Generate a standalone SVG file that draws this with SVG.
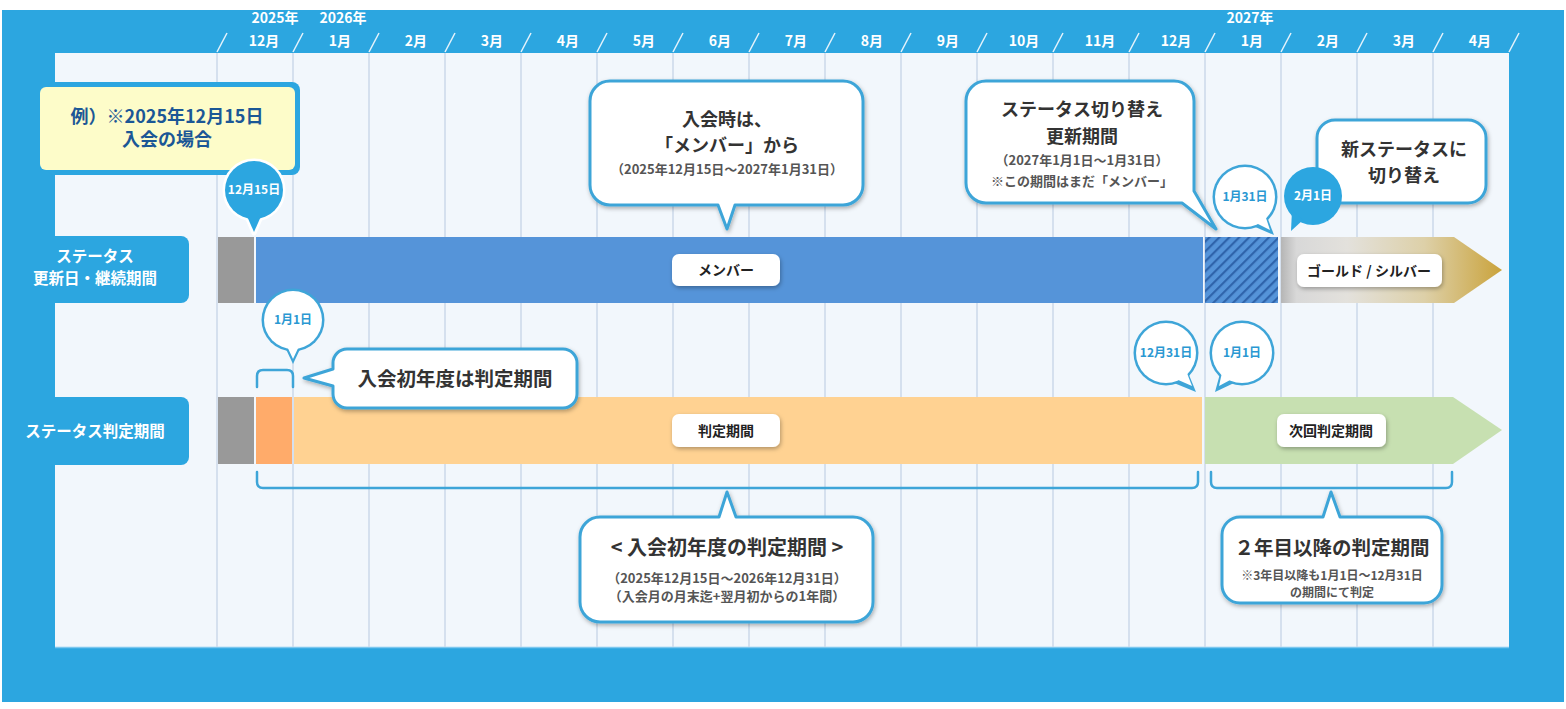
<svg xmlns="http://www.w3.org/2000/svg" width="1566" height="709" viewBox="0 0 1566 709">
<defs>
<style>
text{font-family:'Noto Sans CJK JP','Noto Sans',sans-serif;}
.hdr{fill:#fff;font-size:14px;font-weight:700;text-anchor:middle;}
.grid{stroke:#cbd8ea;stroke-width:1.5;}
.slash{stroke:#e6f3fb;stroke-width:1.5;}
.lbl{fill:#fff;font-size:15.5px;font-weight:700;text-anchor:middle;}
.call{fill:#fff;stroke:#3ea5d8;stroke-width:3;stroke-linejoin:round;filter:url(#sh);}
.t1{fill:#333;font-size:18px;font-weight:700;text-anchor:middle;}
.t2{fill:#555;font-size:13px;font-weight:700;text-anchor:middle;}
.tag{fill:#fff;filter:url(#sh);}
.tagt{fill:#222;font-size:14px;font-weight:700;text-anchor:middle;}
.bub{fill:#3ea5d8;}
.bubf{fill:#fff;}
.bubt{fill:#2a98d2;font-size:12px;font-weight:700;text-anchor:middle;}
.brk{fill:none;stroke:#3ea5d8;stroke-width:2.5;stroke-linecap:round;stroke-linejoin:round;}
</style>
<filter id="sh" x="-10%" y="-10%" width="125%" height="130%">
<feDropShadow dx="1" dy="2" stdDeviation="2" flood-color="#000" flood-opacity="0.3"/>
</filter>
<pattern id="hatch" patternUnits="userSpaceOnUse" width="7" height="7" patternTransform="rotate(45)">
<rect width="7" height="7" fill="#5594d9"/>
<rect width="2.2" height="7" fill="#2f64ab"/>
</pattern>
<linearGradient id="gold" gradientUnits="userSpaceOnUse" x1="1281" y1="0" x2="1502" y2="0">
<stop offset="0" stop-color="#b5b5b5"/>
<stop offset="0.07" stop-color="#d8d8d8"/>
<stop offset="0.3" stop-color="#e3e1dc"/>
<stop offset="0.65" stop-color="#ddd0a8"/>
<stop offset="1" stop-color="#caa33c"/>
</linearGradient>
</defs>

<rect x="0" y="0" width="1566" height="709" fill="#fff"/>
<rect x="2" y="10" width="1562" height="692" fill="#2ca6e0"/>
<rect x="55" y="53" width="1454" height="595" fill="#f2f7fc"/>
<line x1="55" y1="647.5" x2="1509" y2="647.5" stroke="#7cc7ee" stroke-width="1.5"/>

<g id="header">
<text class="hdr" x="275" y="23">2025年</text>
<text class="hdr" x="343" y="23">2026年</text>
<text class="hdr" x="1250" y="23">2027年</text>
<g>
<text class="hdr" x="264" y="46">12月</text>
<text class="hdr" x="340" y="46">1月</text>
<text class="hdr" x="416" y="46">2月</text>
<text class="hdr" x="492" y="46">3月</text>
<text class="hdr" x="568" y="46">4月</text>
<text class="hdr" x="644" y="46">5月</text>
<text class="hdr" x="720" y="46">6月</text>
<text class="hdr" x="796" y="46">7月</text>
<text class="hdr" x="872" y="46">8月</text>
<text class="hdr" x="948" y="46">9月</text>
<text class="hdr" x="1024" y="46">10月</text>
<text class="hdr" x="1100" y="46">11月</text>
<text class="hdr" x="1176" y="46">12月</text>
<text class="hdr" x="1252" y="46">1月</text>
<text class="hdr" x="1328" y="46">2月</text>
<text class="hdr" x="1404" y="46">3月</text>
<text class="hdr" x="1480" y="46">4月</text>
</g>
<g>
<line class="slash" x1="217" y1="52" x2="227" y2="33"/>
<line class="slash" x1="293" y1="52" x2="303" y2="33"/>
<line class="slash" x1="369" y1="52" x2="379" y2="33"/>
<line class="slash" x1="445" y1="52" x2="455" y2="33"/>
<line class="slash" x1="521" y1="52" x2="531" y2="33"/>
<line class="slash" x1="597" y1="52" x2="607" y2="33"/>
<line class="slash" x1="673" y1="52" x2="683" y2="33"/>
<line class="slash" x1="749" y1="52" x2="759" y2="33"/>
<line class="slash" x1="825" y1="52" x2="835" y2="33"/>
<line class="slash" x1="901" y1="52" x2="911" y2="33"/>
<line class="slash" x1="977" y1="52" x2="987" y2="33"/>
<line class="slash" x1="1053" y1="52" x2="1063" y2="33"/>
<line class="slash" x1="1129" y1="52" x2="1139" y2="33"/>
<line class="slash" x1="1205" y1="52" x2="1215" y2="33"/>
<line class="slash" x1="1281" y1="52" x2="1291" y2="33"/>
<line class="slash" x1="1357" y1="52" x2="1367" y2="33"/>
<line class="slash" x1="1433" y1="52" x2="1443" y2="33"/>
<line class="slash" x1="1509" y1="52" x2="1519" y2="33"/>
</g>
</g>

<g id="grid">
<line class="grid" x1="217" y1="53" x2="217" y2="647"/>
<line class="grid" x1="293" y1="53" x2="293" y2="647"/>
<line class="grid" x1="369" y1="53" x2="369" y2="647"/>
<line class="grid" x1="445" y1="53" x2="445" y2="647"/>
<line class="grid" x1="521" y1="53" x2="521" y2="647"/>
<line class="grid" x1="597" y1="53" x2="597" y2="647"/>
<line class="grid" x1="673" y1="53" x2="673" y2="647"/>
<line class="grid" x1="749" y1="53" x2="749" y2="647"/>
<line class="grid" x1="825" y1="53" x2="825" y2="647"/>
<line class="grid" x1="901" y1="53" x2="901" y2="647"/>
<line class="grid" x1="977" y1="53" x2="977" y2="647"/>
<line class="grid" x1="1053" y1="53" x2="1053" y2="647"/>
<line class="grid" x1="1129" y1="53" x2="1129" y2="647"/>
<line class="grid" x1="1205" y1="53" x2="1205" y2="647"/>
<line class="grid" x1="1281" y1="53" x2="1281" y2="647"/>
<line class="grid" x1="1357" y1="53" x2="1357" y2="647"/>
<line class="grid" x1="1433" y1="53" x2="1433" y2="647"/>
</g>

<g id="label-status">
<path d="M2,236 H181 A8,8 0 0 1 189,244 V295 A8,8 0 0 1 181,303 H2 Z" fill="#2ca6e0"/>
<text class="lbl" x="95" y="262">ステータス</text>
<text class="lbl" x="95" y="284">更新日・継続期間</text>
</g>
<g id="label-judge">
<path d="M2,397 H181 A8,8 0 0 1 189,405 V457 A8,8 0 0 1 181,465 H2 Z" fill="#2ca6e0"/>
<text class="lbl" x="95" y="437">ステータス判定期間</text>
</g>

<g id="status-row">
<rect x="218" y="237" width="36" height="66" fill="#999"/>
<rect x="256" y="237" width="947" height="66" fill="#5594d9"/>
<rect x="1205" y="237" width="73" height="66" fill="url(#hatch)"/>
<path d="M1281,237 H1454 L1502,270 L1454,303 H1281 Z" fill="url(#gold)"/>
<g id="tag-member">
<rect class="tag" x="672" y="254" width="108" height="32" rx="7"/>
<text class="tagt" x="726" y="275">メンバー</text>
</g>
<g id="tag-gold">
<rect class="tag" x="1297" y="254" width="145" height="33" rx="7"/>
<text class="tagt" x="1369" y="276">ゴールド / シルバー</text>
</g>
</g>

<g id="judge-row">
<rect x="218" y="397" width="36" height="67" fill="#999"/>
<rect x="256" y="397" width="36" height="67" fill="#ffab6a"/>
<rect x="294" y="397" width="908" height="67" fill="#ffd292"/>
<path d="M1205,397 H1453 L1502,430 L1453,464 H1205 Z" fill="#c7e0b1"/>
<g id="tag-judge">
<rect class="tag" x="672" y="414" width="108" height="33" rx="7"/>
<text class="tagt" x="726" y="436">判定期間</text>
</g>
<g id="tag-next">
<rect class="tag" x="1277" y="414" width="109" height="33" rx="7"/>
<text class="tagt" x="1331" y="436">次回判定期間</text>
</g>
</g>

<g id="connectors">
<path class="brk" d="M257,387 V376 Q257,370 263,370 H287 Q293,370 293,376 V387"/>
<path class="brk" d="M257,472 V482 Q257,488 263,488 H1192 Q1198,488 1198,482 V472"/>
<path class="brk" d="M1211,472 V482 Q1211,488 1217,488 H1446 Q1452,488 1452,482 V472"/>
</g>

<g id="example-box">
<rect x="47" y="82" width="253" height="93" rx="8" fill="#2ca6e0"/>
<rect x="40" y="87" width="255" height="83" rx="6" fill="#fdfcc9"/>
<text x="167" y="123" fill="#1b5796" font-size="18" font-weight="700" text-anchor="middle">例）※2025年12月15日</text>
<text x="167" y="146" fill="#1b5796" font-size="18" font-weight="700" text-anchor="middle">入会の場合</text>
</g>

<g id="bubble-1215">
<circle cx="254" cy="190" r="29" fill="#fff" stroke="#fff" stroke-width="5"/>
<path d="M246,214 L254,233 L262,214 Z" fill="#fff" stroke="#fff" stroke-width="5" stroke-linejoin="round"/>
<circle cx="254" cy="190" r="29" fill="#2ca6e0"/>
<path d="M246,214 L254,232 L262,214 Z" fill="#2ca6e0"/>
<text x="254" y="194" fill="#fff" font-size="12" font-weight="700" text-anchor="middle">12月15日</text>
</g>

<g id="callout-member">
<path class="call" d="M610,81 H843 A20,20 0 0 1 863,101 V185 A20,20 0 0 1 843,205 H735 L727,229 L718,205 H610 A20,20 0 0 1 590,185 V101 A20,20 0 0 1 610,81 Z"/>
<text class="t1" x="727" y="126">入会時は、</text>
<text class="t1" x="727" y="152">「メンバー」から</text>
<text class="t2" x="727" y="174">（2025年12月15日～2027年1月31日）</text>
</g>

<g id="callout-switch">
<path class="call" d="M986,81 H1174 A20,20 0 0 1 1194,101 V191 L1216,229 L1182,203 H986 A20,20 0 0 1 966,183 V101 A20,20 0 0 1 986,81 Z"/>
<text class="t1" x="1082" y="116">ステータス切り替え</text>
<text class="t1" x="1082" y="143">更新期間</text>
<text class="t2" x="1082" y="165">（2027年1月1日～1月31日）</text>
<text class="t2" x="1082" y="186">※この期間はまだ「メンバー」</text>
</g>

<g id="bubble-0131">
<circle class="bub" cx="1245" cy="197" r="32.5"/>
<path class="bub" d="M1266,214 L1274,235 L1253,226 Z"/>
<circle class="bubf" cx="1245" cy="197" r="30"/>
<path class="bubf" d="M1264,212 L1270,230 L1254,222 Z"/>
<text class="bubt" x="1245" y="201">1月31日</text>
</g>

<g id="callout-new">
<rect class="call" x="1317" y="120" width="169" height="83" rx="18"/>
<text class="t1" x="1404" y="156">新ステータスに</text>
<text class="t1" x="1404" y="182">切り替え</text>
</g>

<g id="bubble-0201">
<circle cx="1313" cy="196" r="29" fill="#2ca6e0"/>
<path d="M1303,220 L1291,231 L1292,210 Z" fill="#2ca6e0"/>
<text x="1313" y="200" fill="#fff" font-size="12" font-weight="700" text-anchor="middle">2月1日</text>
</g>

<g id="bubble-0101a">
<circle class="bub" cx="293" cy="320" r="31.5"/>
<path class="bub" d="M284,345 L293,364 L302,345 Z"/>
<circle class="bubf" cx="293" cy="320" r="29"/>
<path class="bubf" d="M286,344 L293,359 L300,344 Z"/>
<text class="bubt" x="293" y="324">1月1日</text>
</g>

<g id="callout-first">
<path class="call" d="M347,349 H563 A14,14 0 0 1 577,363 V394 A14,14 0 0 1 563,408 H347 A14,14 0 0 1 333,394 V386 L304,378 L333,369 V363 A14,14 0 0 1 347,349 Z"/>
<text x="455" y="386" fill="#333" font-size="19.5" font-weight="700" text-anchor="middle">入会初年度は判定期間</text>
</g>

<g id="bubble-1231">
<circle class="bub" cx="1166" cy="353" r="32.5"/>
<path class="bub" d="M1187,370 L1196,392 L1174,383 Z"/>
<circle class="bubf" cx="1166" cy="353" r="30"/>
<path class="bubf" d="M1185,368 L1192,386 L1176,379 Z"/>
<text class="bubt" x="1166" y="357">12月31日</text>
</g>

<g id="bubble-0101b">
<circle class="bub" cx="1242" cy="353" r="32.5"/>
<path class="bub" d="M1221,370 L1215,392 L1234,383 Z"/>
<circle class="bubf" cx="1242" cy="353" r="30"/>
<path class="bubf" d="M1223,368 L1219,386 L1232,379 Z"/>
<text class="bubt" x="1242" y="357">1月1日</text>
</g>

<g id="callout-firstyear">
<path class="call" d="M600,517 H719 L727,492 L736,517 H853 A20,20 0 0 1 873,537 V602 A20,20 0 0 1 853,622 H600 A20,20 0 0 1 580,602 V537 A20,20 0 0 1 600,517 Z"/>
<text x="727" y="555" fill="#333" font-size="20" font-weight="700" text-anchor="middle">&lt; 入会初年度の判定期間 &gt;</text>
<text class="t2" x="727" y="583">（2025年12月15日～2026年12月31日）</text>
<text class="t2" x="727" y="601">（入会月の月末迄+翌月初からの1年間）</text>
</g>

<g id="callout-second">
<path class="call" d="M1240,517 H1323 L1331,492 L1340,517 H1424 A18,18 0 0 1 1442,535 V585 A18,18 0 0 1 1424,603 H1240 A18,18 0 0 1 1222,585 V535 A18,18 0 0 1 1240,517 Z"/>
<text x="1332" y="555" fill="#333" font-size="19.5" font-weight="700" text-anchor="middle">２年目以降の判定期間</text>
<text x="1332" y="580" fill="#555" font-size="12" font-weight="700" text-anchor="middle">※3年目以降も1月1日～12月31日</text>
<text x="1332" y="597" fill="#555" font-size="12" font-weight="700" text-anchor="middle">の期間にて判定</text>
</g>
</svg>
